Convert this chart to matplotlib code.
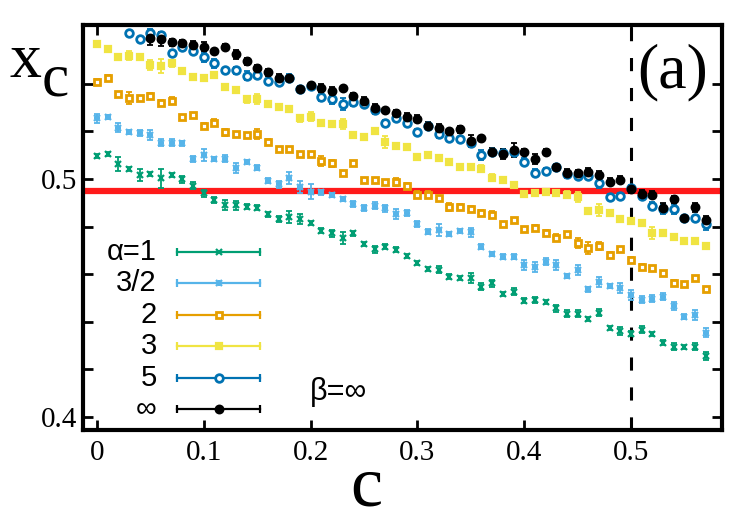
import matplotlib
matplotlib.use("Agg")
import matplotlib.pyplot as plt
import numpy as np

# ---------------- data ----------------
c_vals = [round(0.01 * i, 2) for i in range(58)]

alpha_labels = ["\u03b1=1", "3/2", "2", "3", "5", "\u221e"]

x_a1 = [0.5098, 0.5104, 0.5063, 0.5042, 0.5017, 0.5022, 0.5003, 0.5017, 0.4999, 0.4972,
        0.4940, 0.4912, 0.4891, 0.4889, 0.4884, 0.4879, 0.4851, 0.4832, 0.4840, 0.4832,
        0.4816, 0.4783, 0.4772, 0.4751, 0.4772, 0.4726, 0.4705, 0.4716, 0.4702, 0.4676,
        0.4647, 0.4621, 0.4618, 0.4589, 0.4585, 0.4583, 0.4547, 0.4562, 0.4516, 0.4526,
        0.4489, 0.4492, 0.4483, 0.4457, 0.4433, 0.4433, 0.4412, 0.4438, 0.4375, 0.4361,
        0.4349, 0.4366, 0.4349, 0.4312, 0.4295, 0.4295, 0.4295, 0.4256]
e_a1 = [0.0008, 0.0008, 0.003, 0.001, 0.0025, 0.0008, 0.004, 0.0008, 0.0015, 0.0015,
        0.0015, 0.0012, 0.002, 0.002, 0.0012, 0.001, 0.0012, 0.0012, 0.0025, 0.002,
        0.0008, 0.0012, 0.0015, 0.0025, 0.001, 0.0008, 0.0015, 0.001, 0.001, 0.0008,
        0.0008, 0.0008, 0.0015, 0.001, 0.0008, 0.002, 0.0015, 0.0015, 0.0008, 0.0015,
        0.0012, 0.0012, 0.0008, 0.0015, 0.0015, 0.0015, 0.0008, 0.0015, 0.0008, 0.0015,
        0.001, 0.0015, 0.0008, 0.001, 0.0015, 0.0008, 0.0015, 0.0015]

x_a15 = [0.5255, 0.5262, 0.5216, 0.5199, 0.5192, 0.5185, 0.5153, 0.5153, 0.5150, 0.5083,
         0.5101, 0.5085, 0.5085, 0.5045, 0.5073, 0.5047, 0.4993, 0.4978, 0.5005, 0.4968,
         0.4947, 0.4944, 0.4934, 0.4915, 0.4895, 0.4877, 0.4887, 0.4877, 0.4852, 0.4856,
         0.4811, 0.4779, 0.4786, 0.4769, 0.4783, 0.4776, 0.4716, 0.4685, 0.4674, 0.4674,
         0.4639, 0.4629, 0.4653, 0.4639, 0.4592, 0.4618, 0.4537, 0.4568, 0.4550, 0.4541,
         0.4513, 0.4492, 0.4496, 0.4505, 0.4466, 0.4421, 0.4429, 0.4354]
e_a15 = [0.002, 0.0008, 0.002, 0.0008, 0.0012, 0.002, 0.0015, 0.0015, 0.001, 0.0012,
         0.0025, 0.0008, 0.0015, 0.002, 0.0008, 0.001, 0.001, 0.0015, 0.0025, 0.0025,
         0.003, 0.001, 0.0008, 0.0008, 0.0012, 0.0012, 0.0015, 0.0015, 0.002, 0.0012,
         0.0012, 0.001, 0.0025, 0.001, 0.0008, 0.002, 0.001, 0.001, 0.001, 0.001,
         0.002, 0.002, 0.0015, 0.002, 0.001, 0.002, 0.001, 0.002, 0.001, 0.002,
         0.002, 0.0015, 0.0015, 0.0015, 0.0015, 0.001, 0.002, 0.002]

x_a2 = [0.5409, 0.5426, 0.5356, 0.5339, 0.5339, 0.5350, 0.5321, 0.5328, 0.5259, 0.5269,
        0.5224, 0.5237, 0.5196, 0.5188, 0.5185, 0.5188, 0.5157, 0.5125, 0.5125, 0.5105,
        0.5105, 0.5076, 0.5066, 0.5024, 0.5066, 0.4996, 0.4996, 0.4987, 0.4987, 0.4971,
        0.4933, 0.4933, 0.4919, 0.4882, 0.4884, 0.4875, 0.4858, 0.4850, 0.4811, 0.4828,
        0.4789, 0.4795, 0.4774, 0.4753, 0.4768, 0.4730, 0.4709, 0.4718, 0.4681, 0.4705,
        0.4660, 0.4632, 0.4625, 0.4604, 0.4564, 0.4558, 0.4583, 0.4537]
e_a2 = [0.001, 0.001, 0.001, 0.0025, 0.001, 0.001, 0.001, 0.0015, 0.001, 0.001,
        0.001, 0.0015, 0.0015, 0.001, 0.001, 0.002, 0.001, 0.001, 0.001, 0.001,
        0.001, 0.002, 0.0015, 0.001, 0.001, 0.001, 0.001, 0.001, 0.0015, 0.001,
        0.0015, 0.0015, 0.001, 0.0015, 0.001, 0.001, 0.001, 0.0015, 0.001, 0.001,
        0.001, 0.001, 0.001, 0.0015, 0.001, 0.002, 0.0025, 0.0015, 0.001, 0.001,
        0.001, 0.001, 0.001, 0.001, 0.001, 0.001, 0.001, 0.001]

x_a3 = [0.5566, 0.5545, 0.5511, 0.5518, 0.5514, 0.5479, 0.5475, 0.5486, 0.5454, 0.5427,
        0.5423, 0.5437, 0.5385, 0.5374, 0.5335, 0.5335, 0.5315, 0.5304, 0.5294, 0.5255,
        0.5262, 0.5237, 0.5231, 0.5230, 0.5186, 0.5175, 0.5202, 0.5157, 0.5140, 0.5136,
        0.5092, 0.5100, 0.5087, 0.5070, 0.5052, 0.5052, 0.5043, 0.5006, 0.4995, 0.4975,
        0.4938, 0.4941, 0.4945, 0.4941, 0.4933, 0.4924, 0.4866, 0.4868, 0.4858, 0.4831,
        0.4825, 0.4814, 0.4773, 0.4774, 0.4755, 0.4740, 0.4738, 0.4720]
e_a3 = [0.001, 0.001, 0.001, 0.002, 0.001, 0.002, 0.003, 0.0015, 0.001, 0.001,
        0.001, 0.001, 0.001, 0.001, 0.0015, 0.002, 0.001, 0.001, 0.001, 0.0015,
        0.002, 0.001, 0.001, 0.002, 0.001, 0.001, 0.001, 0.0025, 0.001, 0.001,
        0.001, 0.001, 0.001, 0.001, 0.001, 0.001, 0.0015, 0.0015, 0.001, 0.001,
        0.001, 0.001, 0.001, 0.001, 0.0015, 0.002, 0.001, 0.0025, 0.001, 0.001,
        0.001, 0.001, 0.0025, 0.001, 0.001, 0.001, 0.001, 0.001]

c_a5 = c_vals[3:]
x_a5 = [0.5612, 0.5587, 0.5612, 0.5605, 0.5528, 0.5556, 0.5536, 0.5511, 0.5486, 0.5458,
        0.5456, 0.5434, 0.5437, 0.5412, 0.5409, 0.5425, 0.5376, 0.5391, 0.5346, 0.5335,
        0.5315, 0.5323, 0.5316, 0.5288, 0.5237, 0.5255, 0.5234, 0.5199, 0.5223, 0.5189,
        0.5171, 0.5168, 0.5150, 0.5101, 0.5115, 0.5111, 0.5115, 0.5073, 0.5026, 0.5035,
        0.5052, 0.5021, 0.5013, 0.5013, 0.4982, 0.4926, 0.4929, 0.4961, 0.4929, 0.4887,
        0.4873, 0.4873, 0.4835, 0.4835, 0.4811]
e_a5 = [0.001, 0.001, 0.002, 0.001, 0.001, 0.0015, 0.001, 0.002, 0.002, 0.001,
        0.0015, 0.002, 0.001, 0.001, 0.001, 0.0015, 0.001, 0.001, 0.002, 0.002,
        0.0025, 0.0015, 0.001, 0.0015, 0.001, 0.001, 0.001, 0.001, 0.001, 0.0015,
        0.001, 0.001, 0.001, 0.002, 0.001, 0.0015, 0.001, 0.0015, 0.0015, 0.001,
        0.001, 0.0015, 0.001, 0.001, 0.002, 0.001, 0.001, 0.0015, 0.0015, 0.0015,
        0.002, 0.002, 0.001, 0.001, 0.0025]

c_inf = c_vals[5:]
x_inf = [0.5591, 0.5587, 0.5574, 0.5570, 0.5565, 0.5556, 0.5536, 0.5556, 0.5524, 0.5495,
         0.5466, 0.5448, 0.5424, 0.5426, 0.5379, 0.5393, 0.5382, 0.5368, 0.5381, 0.5350,
         0.5326, 0.5300, 0.5290, 0.5278, 0.5262, 0.5253, 0.5224, 0.5213, 0.5202, 0.5209,
         0.5160, 0.5171, 0.5115, 0.5105, 0.5122, 0.5115, 0.5083, 0.5115, 0.5052, 0.5026,
         0.5026, 0.5031, 0.5017, 0.4989, 0.4996, 0.4956, 0.4937, 0.4933, 0.4877, 0.4915,
         0.4835, 0.4881, 0.4828]
e_inf = [0.003, 0.003, 0.0015, 0.0015, 0.0015, 0.002, 0.001, 0.001, 0.002, 0.0015,
         0.0015, 0.0015, 0.0015, 0.001, 0.001, 0.001, 0.0015, 0.002, 0.001, 0.001,
         0.002, 0.0015, 0.001, 0.001, 0.0015, 0.0015, 0.0015, 0.002, 0.001, 0.0015,
         0.0025, 0.001, 0.0015, 0.002, 0.003, 0.001, 0.002, 0.001, 0.001, 0.0015,
         0.001, 0.0015, 0.0015, 0.0015, 0.0015, 0.0015, 0.0015, 0.0015, 0.002, 0.0015,
         0.001, 0.002, 0.0015]

red_level = 0.495
c_dashed = 0.5

xticks = [0, 0.1, 0.2, 0.3, 0.4, 0.5]
xtick_labels = ["0", "0.1", "0.2", "0.3", "0.4", "0.5"]
yticks = [0.40, 0.42, 0.44, 0.46, 0.48, 0.50, 0.52, 0.54]
ytick_labels = ["0.4", "", "", "", "", "0.5", "", ""]

# ---------------- style ----------------
colors = ["#009E73", "#56B4E9", "#E69F00", "#F0E442", "#0072B2", "#000000"]
markers = [["x"], ["+", "x"], ["s"], ["s"], ["o"], ["o"]]
hollow = [False, False, True, False, True, False]
msizes = [4.5, 5, 5, 5, 5.5, 5.5]
mews = [1.6, 1.6, 2.0, 1.6, 2.0, 1.6]

series = [(c_vals, x_a1, e_a1), (c_vals, x_a15, e_a15), (c_vals, x_a2, e_a2),
          (c_vals, x_a3, e_a3), (c_a5, x_a5, e_a5), (c_inf, x_inf, e_inf)]

SERIF = "Liberation Serif"
SANS = "Liberation Sans"

fig = plt.figure(figsize=(7.5, 5.25), dpi=100)
ax = fig.add_axes([83 / 750, 1 - 430 / 525, 639 / 750, 405 / 525])

ax.axhline(red_level, color="#ff1a1a", lw=4.5, zorder=1)
ax.axvline(c_dashed, color="black", lw=2.2, dashes=(4.3, 5.5), zorder=1.5)


def draw_marker(xs, ys, mks, col, ms, mew, hol, **extra):
    for mk in mks:
        pkw = dict(ls="none", marker=mk, color=col, ms=ms, mew=mew, zorder=3)
        if hol:
            pkw["mfc"] = "white"
        pkw.update(extra)
        ax.plot(xs, ys, **pkw)


for (cx, yv, ev), col, mks, hol, ms, mew in zip(series, colors, markers, hollow, msizes, mews):
    ax.errorbar(cx, yv, yerr=ev, fmt="none", ecolor=col, elinewidth=1.3,
                capsize=2.5, capthick=1.3, zorder=2)
    draw_marker(cx, yv, mks, col, ms, mew, hol)

ax.set_xlim(-0.0131, 0.5852)
ax.set_ylim(0.3945, 0.5647)
ax.set_xticks(xticks)
ax.set_xticklabels(xtick_labels, fontfamily=SERIF, fontsize=21)
ax.set_yticks(yticks)
ax.set_yticklabels(ytick_labels, fontfamily=SERIF, fontsize=21)
ax.tick_params(direction="in", length=7, width=2, top=True, right=True, pad=4)
ax.tick_params(axis="x", pad=7)
for s in ax.spines.values():
    s.set_linewidth(3)

# custom legend (gnuplot style)
leg_y = [0.4395, 0.363, 0.284, 0.2074, 0.129, 0.052]
x0, x1, xm = 0.147, 0.277, 0.213
for lab, yy, col, mks, hol, ms, mew in zip(alpha_labels, leg_y, colors, markers, hollow, msizes, mews):
    ax.text(0.1158, yy, lab, transform=ax.transAxes, ha="right", va="center",
            fontfamily=SANS, fontsize=21)
    ax.plot([x0, x1], [yy, yy], transform=ax.transAxes, color=col, lw=1.6, clip_on=False)
    ax.plot([x0, x1], [yy, yy], transform=ax.transAxes, ls="none", marker="|",
            ms=6, mew=1.6, color=col, clip_on=False)
    draw_marker([xm], [yy], mks, col, ms, mew, hol, transform=ax.transAxes)

ax.text(0.355, 0.093, "\u03b2=\u221e", transform=ax.transAxes, ha="left", va="center",
        fontfamily=SANS, fontsize=22)
ax.text(0.923, 0.884, "(a)", transform=ax.transAxes, ha="center", va="center",
        fontfamily=SERIF, fontsize=46)

# axis labels
fig.text(9 / 750, 1 - 77 / 525, "x", fontfamily=SERIF, fontsize=46, ha="left", va="baseline")
fig.text(42 / 750, 1 - 96 / 525, "c", fontfamily=SERIF, fontsize=44, ha="left", va="baseline")
fig.text(366 / 750, 1 - 505 / 525, "c", fontfamily=SERIF, fontsize=52, ha="center", va="baseline")

fig.savefig("out.png", dpi=100)
